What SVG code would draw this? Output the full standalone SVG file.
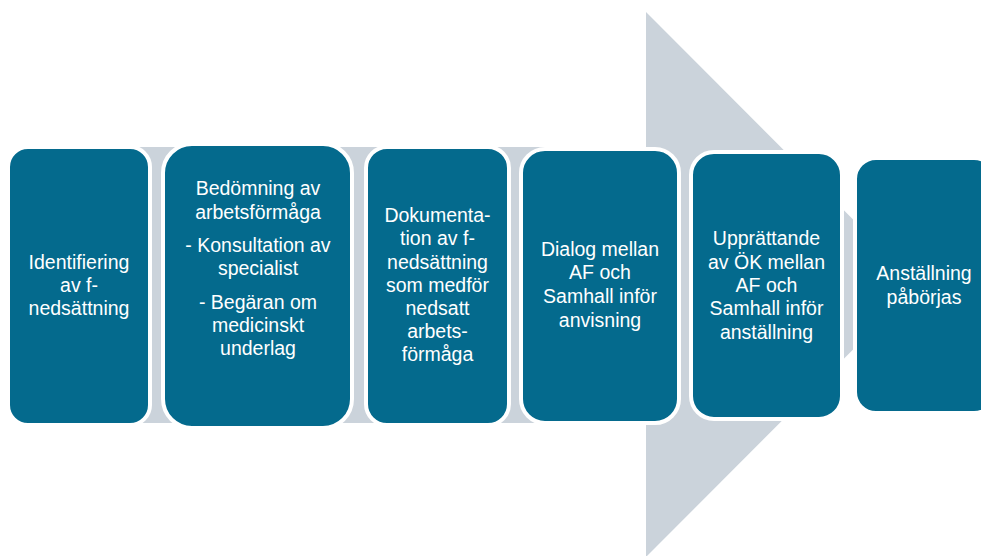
<svg xmlns="http://www.w3.org/2000/svg" width="981" height="556" viewBox="0 0 981 556">
  <style>
    .arrow { fill: #CBD3DB; }
    .box { fill: #046A8D; stroke: #FFFFFF; stroke-width: 4; }
    .label { font-family: "Liberation Sans", Arial, sans-serif; font-size: 19.5px; fill: #FFFFFF; text-anchor: middle; }
  </style>
  <rect width="981" height="556" fill="#FFFFFF"/>

  <!-- background process arrow -->
  <g id="process-arrow">
    <polygon class="arrow" points="20,147 646,147 646,12 918,284.5 646,557 646,423 20,423"/>
  </g>

  <g id="connectors"></g>

  <g id="step-1">
    <rect class="box" x="8" y="147" width="142" height="278" rx="20"/>
    <text class="label"><tspan x="79" y="269">Identifiering</tspan><tspan x="79" y="292">av f-</tspan><tspan x="79" y="315">nedsättning</tspan></text>
  </g>

  <g id="step-2">
    <rect class="box" x="163" y="144" width="189" height="284" rx="29"/>
    <text class="label"><tspan x="258" y="195">Bedömning av</tspan><tspan x="258" y="219">arbetsförmåga</tspan><tspan x="258" y="252">- Konsultation av</tspan><tspan x="258" y="275">specialist</tspan><tspan x="258" y="309">- Begäran om</tspan><tspan x="258" y="332">medicinskt</tspan><tspan x="258" y="355">underlag</tspan></text>
  </g>

  <g id="step-3">
    <rect class="box" x="366" y="147" width="143" height="278" rx="21"/>
    <text class="label"><tspan x="437.5" y="222">Dokumenta-</tspan><tspan x="437.5" y="245">tion av f-</tspan><tspan x="437.5" y="269">nedsättning</tspan><tspan x="437.5" y="292">som medför</tspan><tspan x="437.5" y="315">nedsatt</tspan><tspan x="437.5" y="338">arbets-</tspan><tspan x="437.5" y="361">förmåga</tspan></text>
  </g>

  <g id="step-4">
    <rect class="box" x="521" y="149" width="158" height="274" rx="24"/>
    <text class="label"><tspan x="600" y="256">Dialog mellan</tspan><tspan x="600" y="279">AF och</tspan><tspan x="600" y="303">Samhall inför</tspan><tspan x="600" y="327">anvisning</tspan></text>
  </g>

  <g id="step-5">
    <rect class="box" x="691" y="152" width="151" height="267" rx="23"/>
    <text class="label"><tspan x="766.5" y="245">Upprättande</tspan><tspan x="766.5" y="269">av ÖK mellan</tspan><tspan x="766.5" y="292">AF och</tspan><tspan x="766.5" y="315">Samhall inför</tspan><tspan x="766.5" y="339">anställning</tspan></text>
  </g>

  <g id="step-6">
    <rect class="box" x="855" y="158" width="140" height="255" rx="21"/>
    <text class="label"><tspan x="924" y="280">Anställning</tspan><tspan x="924" y="304">påbörjas</tspan></text>
  </g>
</svg>
